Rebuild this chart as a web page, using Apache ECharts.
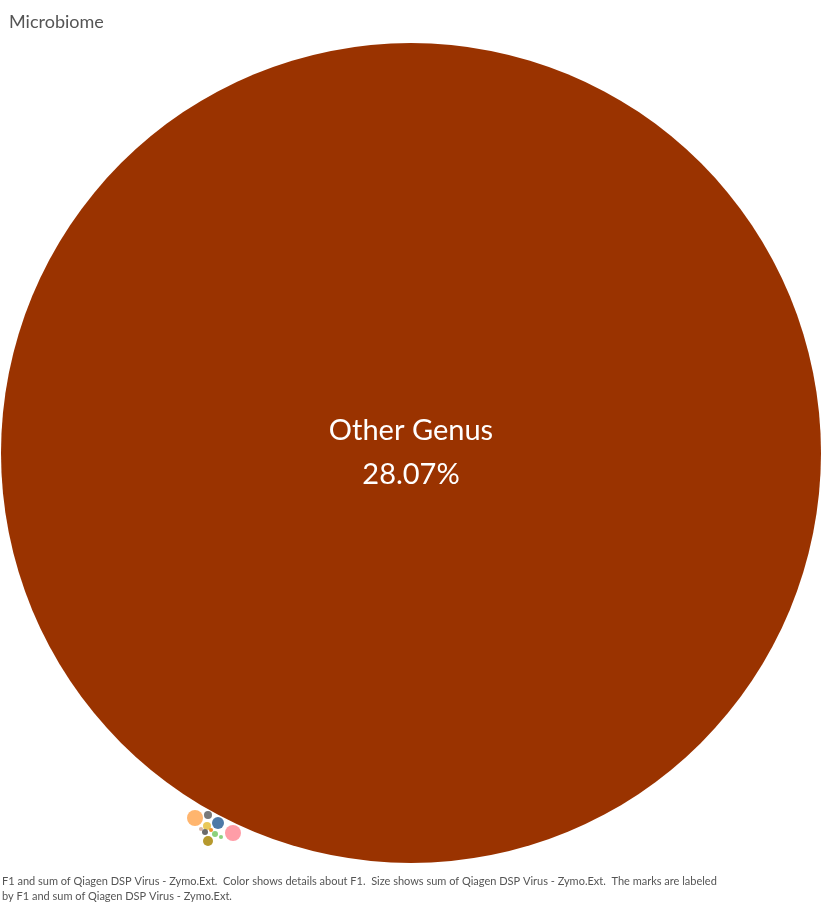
<!DOCTYPE html>
<html>
<head>
<meta charset="utf-8">
<script src="https://cdn.jsdelivr.net/npm/echarts@6/dist/echarts.min.js"></script>
<style>
html,body{margin:0;padding:0;background:#fff;}
#chart{width:821px;height:906px;}
</style>
</head>
<body>
<div id="chart"></div>
<script>
// genus names, share (%), bubble centre in layout units, colour
const genus = ['Other Genus', 'G1', 'G2', 'G3', 'G4', 'G5', 'G6', 'G7', 'G8', 'G9', 'G10', 'G11']
const share = [28.07, 0.0107, 0.0027, 0.0027, 0.006, 0.0107, 0.0007, 0.0007, 0.0015, 0.0015, 0.0007, 0.0042]
const posX = [411, 195, 208, 207, 218, 233, 201, 211, 205, 215, 221, 208]
const posY = [453, 818, 815, 826, 823, 833, 829, 830, 832, 834, 837, 841]
const colors = ['#9a3300', '#ffb56e', '#7a7a7a', '#e9c85a', '#4e79a7', '#ff9da7',
    '#d7b5a6', '#f28e2b', '#6b6b6b', '#8cd17d', '#8cd17d', '#b6992d']

const bigDiameter = 820
const chart = echarts.init(document.getElementById('chart'))
chart.setOption({
    title: {
        text: 'Microbiome', left: 4, top: 8,
        textStyle: { fontSize: 18, fontWeight: 'normal', color: '#555', fontFamily: 'Lato, sans-serif' }
    },
    graphic: [{
        type: 'text', left: 2, top: 874,
        style: {
            text: 'F1 and sum of Qiagen DSP Virus - Zymo.Ext.  Color shows details about F1.  Size shows sum of Qiagen DSP Virus - Zymo.Ext.  The marks are labeled\nby F1 and sum of Qiagen DSP Virus - Zymo.Ext.',
            fontSize: 11, fill: '#555', lineHeight: 15, fontFamily: 'Lato, sans-serif'
        }
    }],
    grid: { left: 0, right: 0, top: 0, bottom: 0 },
    xAxis: { type: 'value', min: 0, max: 821, show: false },
    yAxis: { type: 'value', min: 0, max: 906, inverse: true, show: false },
    series: [{
        type: 'scatter',
        symbol: 'circle',
        symbolSize: d => bigDiameter * Math.sqrt(d[2] / share[0]),
        data: genus.map((g, i) => ({
            name: g,
            value: [posX[i], posY[i], share[i]],
            itemStyle: { color: colors[i], opacity: 1 },
            label: {
                show: i === 0, position: 'inside', color: '#fff', fontSize: 29,
                lineHeight: 44, fontFamily: 'Lato, sans-serif',
                formatter: p => p.name + '\n' + p.value[2].toFixed(2) + '%'
            }
        })),
        emphasis: { disabled: true },
        silent: true
    }]
})
</script>
</body>
</html>
